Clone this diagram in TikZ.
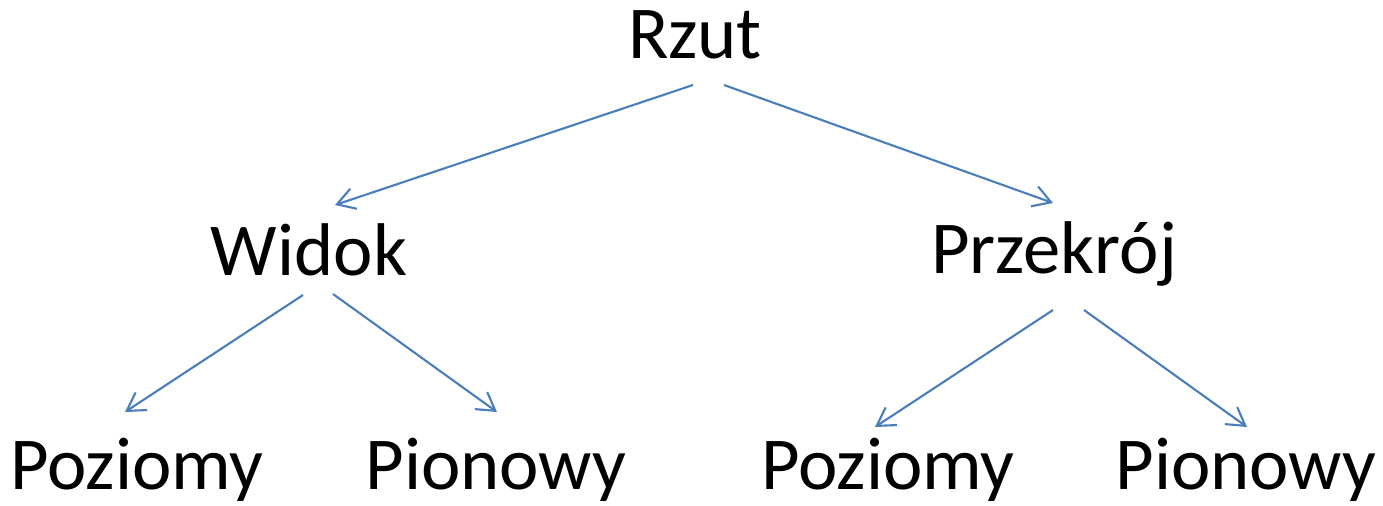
\documentclass[tikz,border=0pt]{standalone}
\usepackage{fontspec}
\setmainfont{Carlito}
\usetikzlibrary{arrows.meta,calc}
\definecolor{linkblue}{HTML}{4A7EBB}
\begin{document}
\begin{tikzpicture}[x=0.02cm,y=-0.02cm]
        \tikzstyle{word}=[anchor=base,inner sep=0pt,font=\fontsize{42.5}{50}\selectfont]
        \tikzstyle{link}=[draw=linkblue,line width=1.2pt,-{Straight Barb[length=10pt,width=12pt,line width=1.2pt]}]
       \useasboundingbox (0,0) rectangle (1383,505);
       \begin{scope}
         \node [word] (rzut) at (695,58) {Rzut};
         \node [word] (widok) at (309,275) {Widok};
         \node [word] (przekroj) at (1054,273) {Przekrój};
         \node [word] (poz1) at (137,489) {Poziomy};
         \node [word] (pion1) at (496,489) {Pionowy};
         \node [word] (poz2) at (888,489) {Poziomy};
         \node [word] (pion2) at (1246,489) {Pionowy};
         \draw[link] ($(rzut.base)+(-2,27)$) -- ($(widok.base)+(26,-70)$);
         \draw[link] ($(rzut.base)+(29,27)$) -- ($(przekroj.base)+(-1,-70)$);
         \draw[link] ($(widok.base)+(-6,20)$) -- ($(poz1.base)+(-12,-77)$);
         \draw[link] ($(widok.base)+(24,19)$) -- ($(pion1.base)+(1,-77)$);
         \draw[link] ($(przekroj.base)+(-1,37)$) -- ($(poz2.base)+(-13,-62)$);
         \draw[link] ($(przekroj.base)+(30,37)$) -- ($(pion2.base)+(1,-62)$);
        \end{scope}
      \end{tikzpicture}
\end{document}
